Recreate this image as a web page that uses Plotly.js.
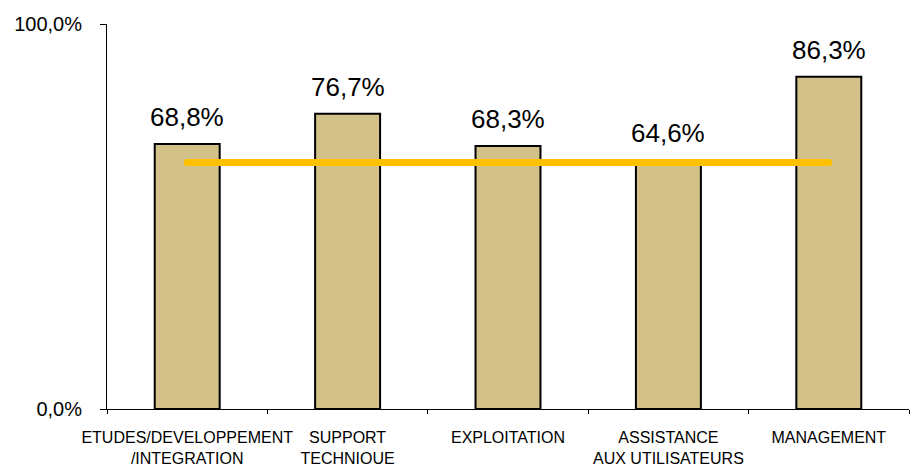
<!DOCTYPE html>
<html>
<head>
<meta charset="utf-8">
<script src="https://cdn.plot.ly/plotly-3.0.1.min.js"></script>
<style>
html,body{margin:0;padding:0;background:#fff;}
#chart{width:915px;height:464px;}
#chart .scatterlayer .js-line{stroke-linecap:round;}
</style>
</head>
<body>
<div id="chart"></div>
<script>
const categories = ["ETUDES/DEVELOPPEMENT<br>/INTEGRATION", "SUPPORT<br>TECHNIQUE", "EXPLOITATION", "ASSISTANCE<br>AUX UTILISATEURS", "MANAGEMENT"];
const values = [68.8, 76.7, 68.3, 64.6, 86.3];
const average = [64.0, 64.0, 64.0, 64.0, 64.0];
const yTicks = [0, 100];
const yTickLabels = ["0,0%", "100,0%"];

const FONT = "Liberation Sans, Arial, sans-serif";

const barTrace = {
  type: "bar",
  x: categories,
  y: values,
  width: 0.405,
  marker: { color: "#D3C18A", line: { color: "#000000", width: 2 } },
  hoverinfo: "none"
};
const lineTrace = {
  type: "scatter",
  mode: "lines",
  x: categories,
  y: average,
  line: { color: "#FFC000", width: 7 },
  hoverinfo: "none"
};

const annotations = categories.map((c, i) => ({
  x: c, y: values[i], xref: "x", yref: "y",
  text: values[i].toFixed(1).replace(".", ",") + "%",
  showarrow: false, yanchor: "bottom", yshift: 10,
  font: { family: FONT, size: 26, color: "#000" }
}));

const layout = {
  width: 915, height: 464,
  margin: { l: 107, r: 6, t: 24, b: 55 },
  paper_bgcolor: "#fff", plot_bgcolor: "#fff",
  showlegend: false,
  separators: ", ",
  font: { family: FONT, color: "#000" },
  xaxis: {
    type: "category",
    automargin: false,
    tickangle: 0,
    showline: true, linecolor: "#000", linewidth: 1,
    ticks: "outside", tickson: "boundaries", ticklen: 4, tickcolor: "#000",
    showgrid: false, zeroline: false,
    tickfont: { family: FONT, size: 16, color: "#000" },
    ticklabelstandoff: 14
  },
  yaxis: {
    range: [0, 100],
    automargin: false,
    tickmode: "array",
    tickvals: yTicks,
    ticktext: yTickLabels,
    showline: true, linecolor: "#000", linewidth: 1,
    ticks: "outside", ticklen: 6, tickcolor: "#000",
    showgrid: false, zeroline: false,
    tickfont: { family: FONT, size: 20, color: "#000" },
    ticklabelstandoff: 14
  },
  annotations: annotations
};

Plotly.newPlot("chart", [barTrace, lineTrace], layout, { displayModeBar: false, staticPlot: true });
</script>
</body>
</html>
